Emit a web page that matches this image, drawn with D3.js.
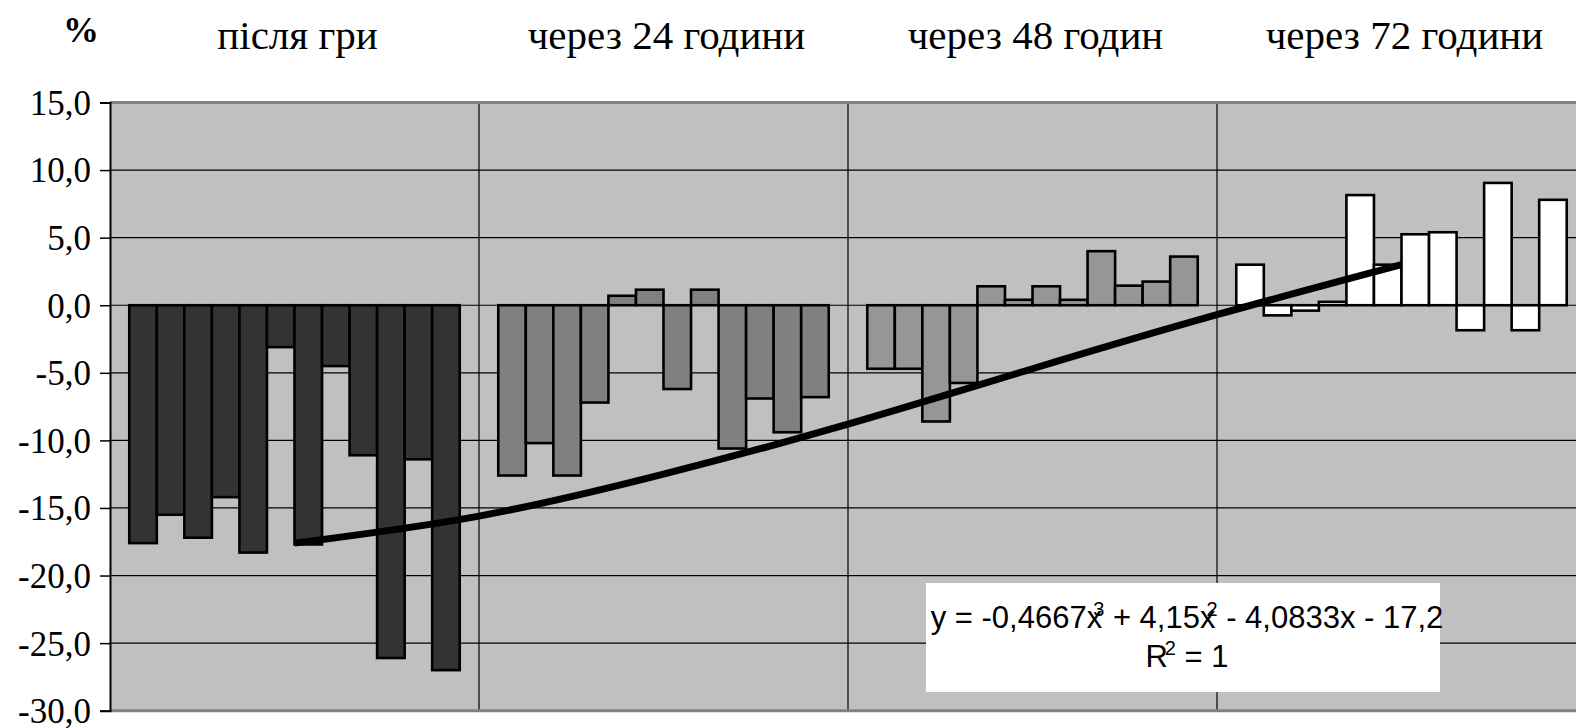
<!DOCTYPE html>
<html>
<head>
<meta charset="utf-8">
<script src="https://cdn.jsdelivr.net/npm/d3@7"></script>
<style>
    body { margin: 0; background: #ffffff; }
    svg { display: block; }
    .yLabel { font-family: 'Liberation Serif', 'Times New Roman', serif; font-size: 35px; fill: #000; }
    .groupLabel { font-family: 'Liberation Serif', 'Times New Roman', serif; font-size: 41px; fill: #000; }
    .unitLabel { font-family: 'Liberation Serif', 'Times New Roman', serif; font-size: 36px; font-weight: bold; }
    .eqText { font-family: 'Liberation Sans', Arial, sans-serif; font-size: 31px; fill: #000; }
</style>
</head>
<body>
<svg id="chart" width="1576" height="728"></svg>
<script>
const groups = ['після гри', 'через 24 години', 'через 48 годин', 'через 72 години']
const afterGame = [-17.6, -15.5, -17.2, -14.2, -18.3, -3.1, -17.7, -4.5, -11.1, -26.1, -11.4, -27.0]
const after24h = [-12.6, -10.2, -12.6, -7.2, 0.7, 1.15, -6.2, 1.15, -10.6, -6.9, -9.4, -6.8]
const after48h = [-4.7, -4.7, -8.6, -5.75, 1.4, 0.4, 1.4, 0.4, 4.0, 1.45, 1.75, 3.6]
const after72h = [3.0, -0.75, -0.4, 0.25, 8.15, 3.0, 5.25, 5.4, -1.85, 9.05, -1.85, 7.8]
const yTicks = [15, 10, 5, 0, -5, -10, -15, -20, -25, -30]
// trend line points (x = group number)
const trendX = [1, 1.5, 2, 2.5, 3, 3.5, 4]
const trendY = [-17.6, -15.6, -12.5, -8.8, -4.7, -0.7, 3.0]
const equation = ['y = -0,4667x', '3', ' + 4,15x', '2', ' - 4,0833x - 17,2']

const series = [afterGame, after24h, after48h, after72h]
const groupColors = ['#333333', '#808080', '#969696', '#ffffff']

const style = {
    plot: { l: 110, t: 102.5, r: 1586, b: 710.7 },
    bg: '#c0c0c0',
    eqBox: { x: 926, y: 583, w: 514, h: 109 }
}

const svg = d3.select('#chart')
const locale = d3.formatLocale({ decimal: ',', thousands: ' ', grouping: [3], currency: ['', ''], minus: '-' })
const fmt = locale.format('.1f')

const x0 = d3.scaleBand()
    .domain(groups)
    .range([style.plot.l, style.plot.r])
    .padding(0)

const x1 = d3.scaleBand()
    .domain(d3.range(afterGame.length))
    .range([0, x0.bandwidth()])
    .paddingInner(0)
    .paddingOuter(0.7)

const y = d3.scaleLinear()
    .domain([-30, 15])
    .range([style.plot.b, style.plot.t])

const xTrend = d3.scaleLinear()
    .domain([1, 4])
    .range([x0(groups[0]) + x0.bandwidth() / 2, x0(groups[3]) + x0.bandwidth() / 2])

// plot background
svg.append('rect')
    .attr('x', style.plot.l)
    .attr('y', style.plot.t)
    .attr('width', style.plot.r - style.plot.l)
    .attr('height', style.plot.b - style.plot.t)
    .attr('fill', style.bg)

// horizontal grid
svg.append('g')
    .selectAll('line')
    .data(yTicks.filter(d => d > -30 && d < 15))
    .join('line')
    .attr('x1', style.plot.l)
    .attr('x2', style.plot.r)
    .attr('y1', d => y(d))
    .attr('y2', d => y(d))
    .attr('stroke', '#000')
    .attr('stroke-width', 1.2)

// vertical grid between groups
svg.append('g')
    .selectAll('line')
    .data(groups.slice(1))
    .join('line')
    .attr('x1', d => x0(d))
    .attr('x2', d => x0(d))
    .attr('y1', style.plot.t)
    .attr('y2', style.plot.b)
    .attr('stroke', '#000')
    .attr('stroke-width', 1.2)

// plot borders top / bottom
svg.append('line')
    .attr('x1', style.plot.l).attr('x2', style.plot.r)
    .attr('y1', style.plot.t).attr('y2', style.plot.t)
    .attr('stroke', '#808080').attr('stroke-width', 3)
svg.append('line')
    .attr('x1', style.plot.l).attr('x2', style.plot.r)
    .attr('y1', style.plot.b).attr('y2', style.plot.b)
    .attr('stroke', '#808080').attr('stroke-width', 3)

// bars
const groupG = svg.append('g')
    .selectAll('g')
    .data(series)
    .join('g')
    .attr('transform', (d, i) => `translate(${x0(groups[i])},0)`)
    .attr('fill', (d, i) => groupColors[i])

groupG.selectAll('rect')
    .data(d => d)
    .join('rect')
    .attr('x', (d, i) => x1(i))
    .attr('width', x1.bandwidth())
    .attr('y', d => y(Math.max(0, d)))
    .attr('height', d => Math.abs(y(d) - y(0)))
    .attr('stroke', '#000')
    .attr('stroke-width', 2.6)

// y axis
const yAxisG = svg.append('g')
    .attr('transform', `translate(${style.plot.l},0)`)
    .call(d3.axisLeft(y).tickValues(yTicks).tickFormat(fmt).tickSize(10).tickPadding(9))
yAxisG.select('.domain').attr('stroke', '#000').attr('stroke-width', 2)
yAxisG.selectAll('.tick line').attr('stroke', '#000').attr('stroke-width', 1.5)
yAxisG.selectAll('.tick text')
    .attr('class', 'yLabel')
    .attr('font-family', null)
    .attr('font-size', null)
    .attr('dy', '0.34em')

// group labels on top
svg.append('g')
    .selectAll('text')
    .data(groups)
    .join('text')
    .attr('class', 'groupLabel')
    .attr('x', d => x0(d) + x0.bandwidth() / 2 + 3)
    .attr('y', 49)
    .attr('text-anchor', 'middle')
    .text(d => d)

svg.append('text')
    .attr('class', 'unitLabel')
    .attr('x', 81)
    .attr('y', 42)
    .attr('text-anchor', 'middle')
    .text('%')

// trend line
const trendLine = d3.line()
    .x(d => xTrend(d[0]))
    .y(d => y(d[1]))
    .curve(d3.curveNatural)

svg.append('path')
    .datum(d3.zip(trendX, trendY))
    .attr('d', trendLine)
    .attr('fill', 'none')
    .attr('stroke', '#000')
    .attr('stroke-width', 7)

// equation label
const eq = svg.append('g')
eq.append('rect')
    .attr('x', style.eqBox.x)
    .attr('y', style.eqBox.y)
    .attr('width', style.eqBox.w)
    .attr('height', style.eqBox.h)
    .attr('fill', '#fff')

const eqText = eq.append('text')
    .attr('class', 'eqText')
    .attr('x', style.eqBox.x + style.eqBox.w / 2 + 4)
    .attr('y', style.eqBox.y + 45)
    .attr('text-anchor', 'middle')
equation.forEach((s, i) => {
    let t = eqText.append('tspan').text(s)
    if (i % 2 == 1) {
        t.attr('font-size', '20px').attr('dy', -12).attr('dx', -9)
    } else if (i > 0) {
        t.attr('dy', 12)
    }
})

const r2 = eq.append('text')
    .attr('class', 'eqText')
    .attr('x', style.eqBox.x + style.eqBox.w / 2 + 4)
    .attr('y', style.eqBox.y + 84)
    .attr('text-anchor', 'middle')
r2.append('tspan').text('R')
r2.append('tspan').text('2').attr('font-size', '20px').attr('dy', -12).attr('dx', -3)
r2.append('tspan').text(' = 1').attr('dy', 12)
</script>
</body>
</html>
